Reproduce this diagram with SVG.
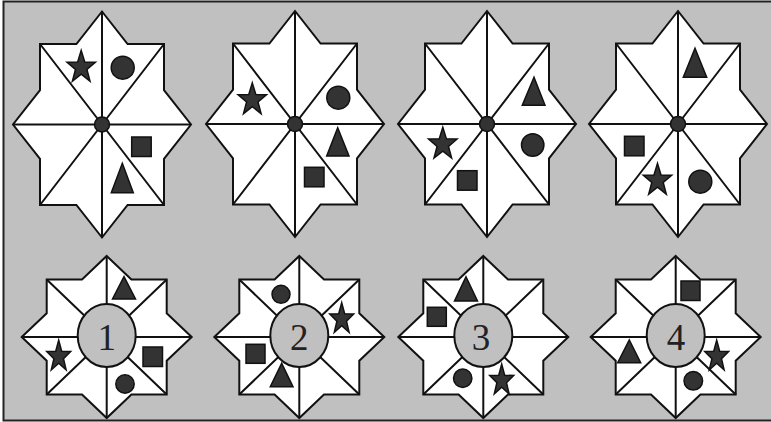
<svg xmlns="http://www.w3.org/2000/svg" xmlns:xlink="http://www.w3.org/1999/xlink" width="771" height="422" viewBox="0 0 771 422">
<style>
.st{fill:#fff;stroke:#111;stroke-width:2;stroke-linejoin:miter}
.sp{fill:none;stroke:#111;stroke-width:2}
.sh{fill:#333;stroke:#111;stroke-width:1.5}
.ov{fill:#c0c0c0;stroke:#111;stroke-width:2}
.num{font-family:"Liberation Serif","Times New Roman",serif;font-size:37px;fill:#222;text-anchor:middle}
</style>
<defs>
<g id="big">
<path class="sp" d="M0,-113V113M-89,0H89M-62,-80.5L62,80.5M62,-80.5L-62,80.5"/>
<polygon class="st" style="fill:none" points="0,-113 25.6,-80.5 62,-80.5 62,-34.3 89,0 62,34.3 62,80.5 25.6,80.5 0,113 -25.6,80.5 -62,80.5 -62,34.3 -89,0 -62,-34.3 -62,-80.5 -25.6,-80.5"/>
<circle class="sh" r="7.5"/>
</g>
<polygon id="bigfill" fill="#fff" points="0,-113 25.6,-80.5 62,-80.5 62,-34.3 89,0 62,34.3 62,80.5 25.6,80.5 0,113 -25.6,80.5 -62,80.5 -62,34.3 -89,0 -62,-34.3 -62,-80.5 -25.6,-80.5"/>
<g id="small">
<polygon fill="#fff" points="0,-81 24.7,-57.5 60,-57.5 60,-23.8 85,0 60,23.8 60,57.5 24.7,57.5 0,81 -24.7,57.5 -60,57.5 -60,23.8 -85,0 -60,-23.8 -60,-57.5 -24.7,-57.5"/>
<path class="sp" d="M0,-81V81M-85,0H85M-60,-57.5L60,57.5M60,-57.5L-60,57.5"/>
<polygon class="st" style="fill:none" points="0,-81 24.7,-57.5 60,-57.5 60,-23.8 85,0 60,23.8 60,57.5 24.7,57.5 0,81 -24.7,57.5 -60,57.5 -60,23.8 -85,0 -60,-23.8 -60,-57.5 -24.7,-57.5"/>
<ellipse class="ov" rx="29" ry="31.5" cy="-1.5"/>
</g>
<polygon id="starT" class="sh" points="0,-17 3.53,-5.5 14.27,-5.25 5.71,2.1 8.82,13.75 0,6.8 -8.82,13.75 -5.71,2.1 -14.27,-5.25 -3.53,-5.5"/>
<polygon id="starB" class="sh" points="0,-16.5 2.96,-5.34 11.98,-5.1 4.79,2.04 7.41,13.35 0,6.6 -7.41,13.35 -4.79,2.04 -11.98,-5.1 -2.96,-5.34"/>
</defs>
<rect x="3.5" y="1.5" width="780" height="419" fill="#c0c0c0" stroke="#222" stroke-width="2"/>

<g id="fig-top-1">
<use xlink:href="#bigfill" x="102" y="124.5"/>
<use xlink:href="#big" x="102" y="124.5"/>
<use xlink:href="#starT" x="81.2" y="67.4"/>
<circle class="sh" cx="122.7" cy="67.7" r="11.5"/>
<rect class="sh" x="131.7" y="137" width="19.5" height="19.5"/>
<polygon class="sh" points="122.3,163.3 133.3,192.7 111.3,192.7"/>
</g>

<g id="fig-top-2">
<use xlink:href="#bigfill" x="295" y="124"/>
<use xlink:href="#big" x="295" y="124"/>
<use xlink:href="#starT" x="252.3" y="99.9"/>
<circle class="sh" cx="338.3" cy="97.7" r="11.5"/>
<polygon class="sh" points="337.7,127.7 349,156 326.7,156"/>
<rect class="sh" x="304.5" y="167.3" width="19.5" height="19.5"/>
</g>

<g id="fig-top-3">
<use xlink:href="#bigfill" x="487" y="124"/>
<use xlink:href="#big" x="487" y="124"/>
<polygon class="sh" points="534,77.3 545,105.3 522.3,105.3"/>
<circle class="sh" cx="532.7" cy="145" r="11.2"/>
<use xlink:href="#starT" x="442.8" y="144.3"/>
<rect class="sh" x="457.5" y="170.7" width="19.5" height="19.5"/>
</g>

<g id="fig-top-4">
<use xlink:href="#bigfill" x="678" y="124"/>
<use xlink:href="#big" x="678" y="124"/>
<polygon class="sh" points="695,48.3 706.7,77.3 683.3,77.3"/>
<rect class="sh" x="624.5" y="136.3" width="19.5" height="19.5"/>
<use xlink:href="#starT" x="657.5" y="180.4"/>
<circle class="sh" cx="700.3" cy="181.7" r="11.5"/>
</g>

<g id="option-1">
<use xlink:href="#small" x="106.7" y="337"/>
<text class="num" x="106.7" y="350">1</text>
<polygon class="sh" points="124,276.7 135.5,299 112.5,299"/>
<rect class="sh" x="143" y="347" width="19.5" height="19.5"/>
<circle class="sh" cx="125" cy="384" r="9.2"/>
<use xlink:href="#starB" x="58.7" y="356.6"/>
</g>

<g id="option-2">
<use xlink:href="#small" x="299.3" y="337"/>
<text class="num" x="299.3" y="350">2</text>
<circle class="sh" cx="281" cy="294.3" r="9"/>
<use xlink:href="#starB" x="341.7" y="319.1"/>
<rect class="sh" x="246" y="344.3" width="19" height="19"/>
<polygon class="sh" points="281.7,363.3 293,386.7 270.3,386.7"/>
</g>

<g id="option-3">
<use xlink:href="#small" x="483.3" y="337"/>
<text class="num" x="481" y="350">3</text>
<polygon class="sh" points="466,276.7 477.5,301 454.5,301"/>
<rect class="sh" x="427.3" y="307.3" width="19" height="19"/>
<circle class="sh" cx="462.7" cy="378.3" r="9.2"/>
<use xlink:href="#starB" x="501.7" y="380.6"/>
</g>

<g id="option-4">
<use xlink:href="#small" x="675.7" y="337"/>
<text class="num" x="676" y="350">4</text>
<rect class="sh" x="681" y="281" width="19" height="19.5"/>
<polygon class="sh" points="629.3,340 640.7,362.7 617.7,362.7"/>
<use xlink:href="#starB" x="716.7" y="356.6"/>
<circle class="sh" cx="693.3" cy="380.8" r="9.3"/>
</g>
</svg>
